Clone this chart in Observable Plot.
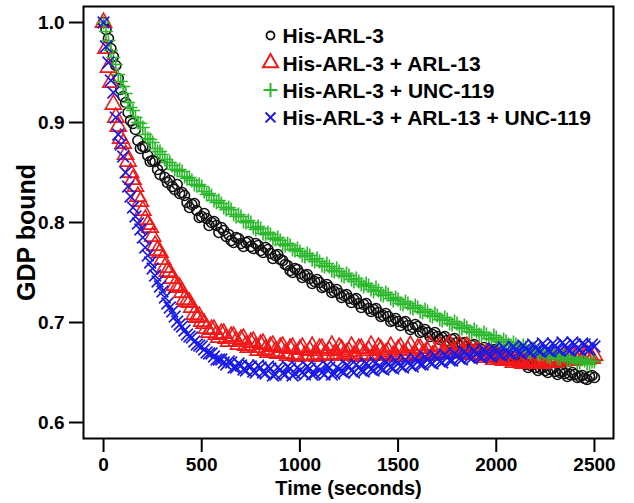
<!DOCTYPE html>
<html>
<head>
<meta charset="utf-8">
<script src="https://cdn.jsdelivr.net/npm/d3@7"></script>
<script src="https://cdn.jsdelivr.net/npm/@observablehq/plot@0.6"></script>
<style>
  html, body { margin: 0; padding: 0; background: #fff; }
  #chart svg { display: block; }
  g[aria-label="x-axis tick"], g[aria-label="y-axis tick"] { stroke-width: 2px; }
</style>
</head>
<body>
<div id="chart"></div>
<script>
const seriesNames = ["His-ARL-3", "His-ARL-3 + ARL-13", "His-ARL-3 + UNC-119", "His-ARL-3 + ARL-13 + UNC-119"];
const seriesColors = ["#111111", "#f01818", "#2db82d", "#1a1ae8"];
const seriesSymbols = ["circle", "triangle", "plus", "times"];
const seriesRadius = [5, 6, 4.6, 5.4];

const xTicks = [0, 500, 1000, 1500, 2000, 2500];
const yTicks = [0.6, 0.7, 0.8, 0.9, 1.0];

// sample times (s)
const times = [0,25,50,75,100,125,150,175,200,225,250,275,300,325,350,375,400,425,450,475,
  500,525,550,575,600,625,650,675,700,725,750,775,800,825,850,875,900,925,950,975,
  1000,1025,1050,1075,1100,1125,1150,1175,1200,1225,1250,1275,1300,1325,1350,1375,1400,1425,1450,1475,
  1500,1525,1550,1575,1600,1625,1650,1675,1700,1725,1750,1775,1800,1825,1850,1875,1900,1925,1950,1975,
  2000,2025,2050,2075,2100,2125,2150,2175,2200,2225,2250,2275,2300,2325,2350,2375,2400,2425,2450,2475,2500];
const timesMid = [12.5,37.5,62.5,87.5,112.5,137.5,162.5,187.5,212.5,237.5,262.5,287.5,312.5,337.5,362.5,387.5,412.5,437.5,462.5,487.5,
  512.5,537.5,562.5,587.5,612.5,637.5,662.5,687.5,712.5,737.5,762.5,787.5,812.5,837.5,862.5,887.5,912.5,937.5,962.5,987.5,
  1012.5,1037.5,1062.5,1087.5,1112.5,1137.5,1162.5,1187.5,1212.5,1237.5,1262.5,1287.5,1312.5,1337.5,1362.5,1387.5,1412.5,1437.5,1462.5,1487.5,
  1512.5,1537.5,1562.5,1587.5,1612.5,1637.5,1662.5,1687.5,1712.5,1737.5,1762.5,1787.5,1812.5,1837.5,1862.5,1887.5,1912.5,1937.5,1962.5,1987.5,
  2012.5,2037.5,2062.5,2087.5,2112.5,2137.5,2162.5,2187.5,2212.5,2237.5,2262.5,2287.5,2312.5,2337.5,2362.5,2387.5,2412.5,2437.5,2462.5,2487.5];

// His-ARL-3
const arl3 = [1.000,0.984,0.966,0.944,0.926,0.910,0.899,0.882,0.876,0.867,0.862,0.853,0.857,0.840,0.836,0.838,0.830,0.820,0.818,0.812,
  0.806,0.804,0.800,0.797,0.795,0.786,0.782,0.785,0.779,0.780,0.776,0.779,0.772,0.775,0.769,0.767,0.763,0.758,0.752,0.754,
  0.749,0.747,0.744,0.741,0.740,0.736,0.735,0.731,0.729,0.727,0.724,0.723,0.719,0.718,0.714,0.713,0.710,0.707,0.706,0.702,
  0.701,0.700,0.697,0.695,0.696,0.691,0.690,0.688,0.686,0.685,0.682,0.683,0.680,0.679,0.676,0.677,0.674,0.673,0.671,0.672,
  0.669,0.668,0.666,0.664,0.663,0.661,0.658,0.657,0.655,0.654,0.652,0.653,0.651,0.650,0.649,0.648,0.648,0.646,0.644,0.646,0.645];
const arl3Mid = [0.993,0.974,0.957,0.933,0.920,0.902,0.893,0.874,0.875,0.861,0.861,0.848,0.845,0.842,0.833,0.829,0.827,0.815,0.819,0.805,
  0.809,0.797,0.801,0.790,0.792,0.788,0.780,0.784,0.776,0.781,0.774,0.777,0.770,0.773,0.764,0.768,0.762,0.757,0.750,0.753,
  0.745,0.748,0.739,0.743,0.735,0.738,0.730,0.733,0.725,0.728,0.720,0.724,0.715,0.719,0.711,0.714,0.706,0.709,0.701,0.704,
  0.697,0.701,0.693,0.698,0.690,0.693,0.686,0.690,0.683,0.686,0.680,0.684,0.677,0.680,0.673,0.678,0.671,0.675,0.669,0.673,
  0.666,0.669,0.662,0.666,0.659,0.661,0.655,0.658,0.652,0.655,0.650,0.654,0.648,0.651,0.646,0.650,0.645,0.647,0.643,0.647];

// His-ARL-3 + ARL-13
const arl3Arl13 = [1.000,0.955,0.918,0.896,0.879,0.861,0.843,0.826,0.812,0.798,0.786,0.772,0.763,0.751,0.744,0.735,0.730,0.721,0.715,0.705,
  0.701,0.694,0.693,0.688,0.689,0.684,0.686,0.681,0.683,0.677,0.680,0.675,0.678,0.673,0.676,0.671,0.675,0.669,0.674,0.668,
  0.673,0.667,0.672,0.668,0.674,0.667,0.672,0.668,0.675,0.668,0.671,0.667,0.674,0.668,0.672,0.667,0.675,0.668,0.671,0.667,
  0.673,0.668,0.672,0.666,0.674,0.668,0.671,0.667,0.673,0.669,0.675,0.670,0.673,0.669,0.676,0.668,0.671,0.667,0.669,0.665,
  0.667,0.664,0.665,0.662,0.664,0.661,0.662,0.660,0.662,0.660,0.663,0.661,0.664,0.662,0.665,0.663,0.666,0.664,0.667,0.665,0.667];
const arl3Arl13Mid = [0.974,0.940,0.905,0.884,0.868,0.850,0.836,0.821,0.803,0.795,0.777,0.770,0.755,0.750,0.737,0.735,0.723,0.720,0.708,0.706,
  0.699,0.690,0.693,0.685,0.689,0.681,0.686,0.678,0.684,0.675,0.681,0.672,0.679,0.670,0.677,0.669,0.676,0.667,0.675,0.666,
  0.675,0.667,0.676,0.666,0.674,0.668,0.677,0.667,0.673,0.669,0.676,0.666,0.674,0.668,0.677,0.667,0.673,0.669,0.676,0.666,
  0.675,0.668,0.677,0.667,0.674,0.669,0.677,0.668,0.676,0.670,0.678,0.669,0.677,0.670,0.674,0.668,0.671,0.665,0.668,0.663,
  0.666,0.662,0.664,0.660,0.663,0.659,0.662,0.659,0.661,0.659,0.664,0.660,0.665,0.661,0.666,0.662,0.667,0.663,0.668,0.664];

// His-ARL-3 + UNC-119
const arl3Unc119 = [1.000,0.982,0.965,0.948,0.936,0.920,0.912,0.900,0.895,0.884,0.880,0.871,0.868,0.860,0.857,0.852,0.851,0.844,0.842,0.837,
  0.836,0.828,0.827,0.820,0.819,0.813,0.813,0.806,0.806,0.800,0.800,0.793,0.794,0.788,0.788,0.783,0.782,0.777,0.777,0.772,
  0.771,0.766,0.767,0.761,0.761,0.756,0.756,0.751,0.751,0.746,0.747,0.741,0.741,0.736,0.737,0.731,0.732,0.727,0.728,0.722,
  0.723,0.718,0.719,0.714,0.715,0.710,0.711,0.706,0.707,0.702,0.703,0.698,0.699,0.694,0.695,0.690,0.691,0.687,0.688,0.683,
  0.685,0.680,0.681,0.677,0.678,0.674,0.675,0.670,0.672,0.668,0.669,0.665,0.668,0.664,0.666,0.662,0.664,0.660,0.662,0.658,0.661];
const arl3Unc119Mid = [0.991,0.972,0.958,0.941,0.929,0.915,0.905,0.899,0.888,0.883,0.874,0.871,0.863,0.860,0.853,0.853,0.846,0.845,0.838,0.838,
  0.831,0.829,0.822,0.822,0.815,0.815,0.808,0.808,0.801,0.802,0.795,0.796,0.789,0.790,0.784,0.785,0.778,0.779,0.773,0.774,
  0.767,0.769,0.763,0.764,0.757,0.759,0.752,0.754,0.747,0.749,0.743,0.744,0.738,0.739,0.733,0.735,0.728,0.730,0.724,0.725,
  0.719,0.721,0.715,0.717,0.711,0.713,0.707,0.709,0.703,0.705,0.699,0.701,0.695,0.697,0.691,0.693,0.688,0.690,0.684,0.687,
  0.681,0.683,0.678,0.680,0.675,0.677,0.671,0.674,0.669,0.671,0.666,0.669,0.664,0.667,0.662,0.665,0.660,0.663,0.659,0.661];

// His-ARL-3 + ARL-13 + UNC-119
const arl3Arl13Unc119 = [1.000,0.960,0.930,0.888,0.866,0.836,0.815,0.799,0.785,0.767,0.754,0.741,0.731,0.719,0.711,0.701,0.696,0.688,0.685,0.678,
  0.676,0.670,0.669,0.663,0.663,0.658,0.660,0.655,0.657,0.652,0.656,0.650,0.655,0.649,0.654,0.648,0.653,0.648,0.654,0.649,
  0.652,0.648,0.654,0.649,0.652,0.648,0.655,0.649,0.653,0.650,0.656,0.650,0.655,0.651,0.657,0.652,0.656,0.653,0.658,0.654,
  0.659,0.655,0.660,0.656,0.661,0.658,0.663,0.659,0.664,0.660,0.665,0.662,0.667,0.663,0.668,0.664,0.669,0.665,0.670,0.666,
  0.671,0.667,0.672,0.668,0.673,0.669,0.674,0.670,0.675,0.671,0.676,0.671,0.677,0.672,0.677,0.672,0.678,0.673,0.678,0.673,0.676];
const arl3Arl13Unc119Mid = [0.976,0.942,0.905,0.878,0.850,0.826,0.806,0.793,0.775,0.760,0.747,0.736,0.725,0.715,0.706,0.698,0.692,0.686,0.681,0.677,
  0.673,0.669,0.666,0.663,0.660,0.661,0.655,0.659,0.653,0.657,0.651,0.657,0.650,0.656,0.647,0.655,0.649,0.656,0.647,0.655,
  0.650,0.656,0.648,0.655,0.650,0.657,0.648,0.655,0.651,0.657,0.652,0.658,0.652,0.659,0.653,0.660,0.654,0.661,0.655,0.662,
  0.656,0.663,0.657,0.664,0.658,0.666,0.660,0.667,0.661,0.668,0.662,0.669,0.664,0.671,0.665,0.672,0.666,0.673,0.667,0.674,
  0.668,0.675,0.669,0.676,0.670,0.677,0.671,0.678,0.672,0.679,0.672,0.679,0.673,0.680,0.673,0.680,0.674,0.679,0.674,0.678];

const seriesValues = [arl3, arl3Arl13, arl3Unc119, arl3Arl13Unc119];
const seriesValuesMid = [arl3Mid, arl3Arl13Mid, arl3Unc119Mid, arl3Arl13Unc119Mid];

const font = "'Liberation Sans', Arial, Helvetica, sans-serif";

const marks = [];
seriesValues.forEach((vals, i) => {
  const rows = times.map((t, j) => ({t, v: vals[j]}))
    .concat(timesMid.map((t, j) => ({t, v: seriesValuesMid[i][j]})))
    .sort((a, b) => a.t - b.t);
  marks.push(Plot.dot(rows, {
    x: "t", y: "v",
    symbol: () => seriesSymbols[i],
    r: seriesRadius[i],
    stroke: seriesColors[i],
    strokeWidth: 1.6,
    fill: "none"
  }));
});

// legend
seriesNames.forEach((name, i) => {
  const dy = 29 + i * 27.3;
  marks.push(Plot.dot([name], {
    frameAnchor: "top-left", dx: 187, dy,
    symbol: () => seriesSymbols[i],
    r: i === 0 ? 4 : i === 1 ? 5.6 : 4.6,
    stroke: seriesColors[i], strokeWidth: i === 0 ? 1.8 : 2, fill: "none"
  }));
  marks.push(Plot.text([name], {
    frameAnchor: "top-left", dx: 199, dy: dy + 1,
    text: d => d, textAnchor: "start", lineAnchor: "middle",
    fontSize: 21, fontWeight: "bold", fill: "#000"
  }));
});

// axis titles
marks.push(Plot.text(["GDP bound"], {
  frameAnchor: "left", dx: -57, dy: 10, text: d => d, rotate: -90,
  textAnchor: "middle", lineAnchor: "middle",
  fontSize: 25, fontWeight: "bold", fill: "#000"
}));
marks.push(Plot.text(["Time (seconds)"], {
  frameAnchor: "bottom", dy: 50, text: d => d,
  textAnchor: "middle", lineAnchor: "middle",
  fontSize: 20, fontWeight: "bold", fill: "#000"
}));

marks.push(Plot.frame({stroke: "#000", strokeWidth: 2}));

const chart = Plot.plot({
  width: 634,
  height: 503,
  marginLeft: 83,
  marginRight: 21,
  marginTop: 6,
  marginBottom: 65,
  style: {fontFamily: font, fontSize: "19px", fontWeight: "bold", color: "#000", background: "#fff", overflow: "visible"},
  x: {domain: [-102, 2597], ticks: xTicks, tickSize: 14, tickPadding: 5, tickFormat: d => String(d), label: null},
  y: {domain: [0.584, 1.016], ticks: yTicks, tickSize: 14, tickPadding: 5, tickFormat: d3.format(".1f"), label: null},
  marks
});
document.getElementById("chart").appendChild(chart);
</script>
</body>
</html>
